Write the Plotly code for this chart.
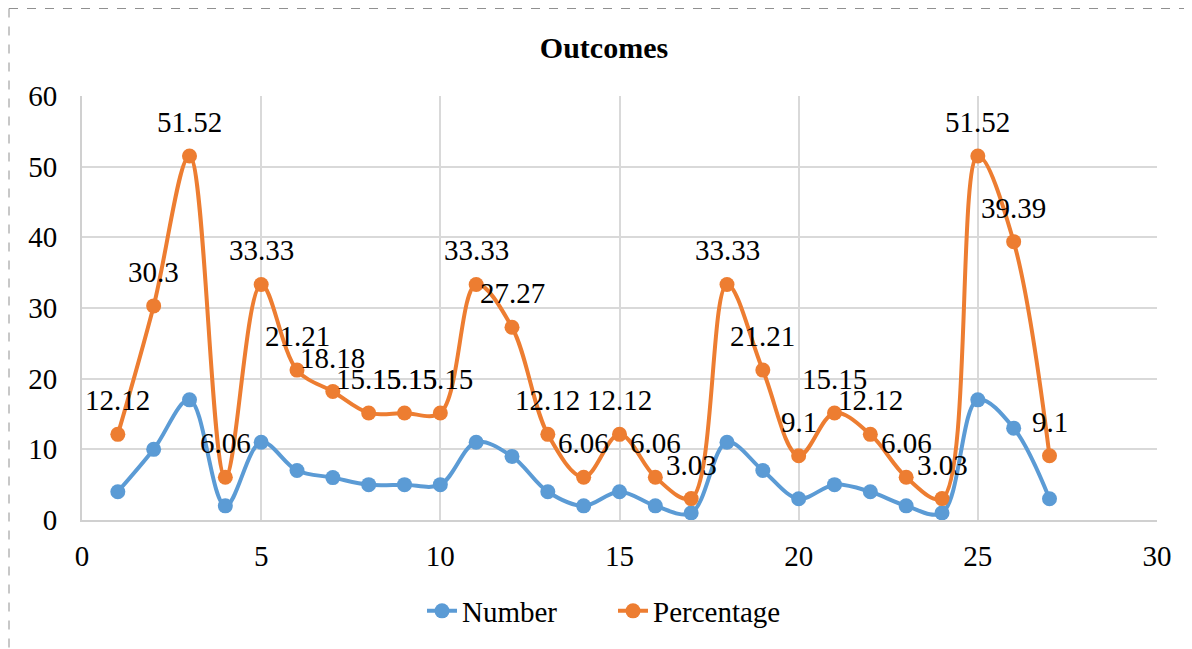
import plotly.graph_objects as go

x_vals = list(range(1, 28))
number = [4, 10, 17, 2, 11, 7, 6, 5, 5, 5, 11, 9, 4, 2, 4, 2, 1, 11, 7, 3, 5, 4, 2, 1, 17, 13, 3]
percentage = [12.12, 30.3, 51.52, 6.06, 33.33, 21.21, 18.18, 15.15, 15.15, 15.15,
              33.33, 27.27, 12.12, 6.06, 12.12, 6.06, 3.03, 33.33, 21.21, 9.1,
              15.15, 12.12, 6.06, 3.03, 51.52, 39.39, 9.1]
x_ticks = [0, 5, 10, 15, 20, 25, 30]
y_ticks = [0, 10, 20, 30, 40, 50, 60]

BLUE = "#5B9BD5"
ORANGE = "#ED7D31"
FONT = "Liberation Serif"
FS = 29

# the page places the figure 8px from the top-left corner
OFF = 8
W, H = 1192 - OFF, 649 - OFF
PL, PR, PT, PB = 82, 1157, 96, 520  # plot area in page pixels

fig = go.Figure()
fig.add_trace(go.Scatter(
    x=x_vals, y=number, name="Number", mode="lines+markers",
    line=dict(color=BLUE, width=4, shape="spline", smoothing=1),
    marker=dict(color=BLUE, size=15),
))
fig.add_trace(go.Scatter(
    x=x_vals, y=percentage, name="Percentage", mode="lines+markers",
    line=dict(color=ORANGE, width=4, shape="spline", smoothing=1),
    marker=dict(color=ORANGE, size=15),
))

for xv, pv in zip(x_vals, percentage):
    fig.add_annotation(x=xv, y=pv, text=str(pv), showarrow=False,
                       yshift=34, xanchor="center", yanchor="middle",
                       font=dict(family=FONT, size=FS, color="black"))

pw, ph = PR - PL, PB - PT
bx = (9 - PL) / pw
by = (PB - 8.5) / ph
fig.add_shape(type="line", xref="paper", yref="paper",
              x0=bx, x1=(1200 - PL) / pw, y0=by, y1=by,
              line=dict(color="#909090", width=1, dash="dash"))
fig.add_shape(type="line", xref="paper", yref="paper",
              x0=bx, x1=bx, y0=by, y1=(PB - 660) / ph,
              line=dict(color="#909090", width=1, dash="dash"))

fig.update_layout(
    width=W, height=H,
    margin=dict(l=PL - OFF, r=W - (PR - OFF), t=PT - OFF, b=H - (PB - OFF)),
    paper_bgcolor="white", plot_bgcolor="white",
    font=dict(family=FONT, size=FS, color="black"),
    title=dict(text="<b>Outcomes</b>", x=(604 - OFF) / W, xanchor="center",
               y=1 - (47 - OFF) / H, yanchor="middle", yref="container",
               font=dict(family=FONT, size=30, color="black")),
    showlegend=True,
    legend=dict(orientation="h", x=(422 - PL) / pw, xanchor="left",
                y=(PB - 611) / ph, yanchor="middle",
                font=dict(family=FONT, size=FS, color="black"),
                entrywidth=146, entrywidthmode="pixels",
                tracegroupgap=0),
    xaxis=dict(range=[0, 30], tickvals=x_ticks, showgrid=True, gridcolor="#D9D9D9",
               gridwidth=2, showline=True, linecolor="#D0D0D0", linewidth=2,
               zeroline=False, ticks="", ticklabelstandoff=9,
               tickfont=dict(family=FONT, size=FS)),
    yaxis=dict(range=[0, 60], tickvals=y_ticks, showgrid=True, gridcolor="#D9D9D9",
               gridwidth=2, showline=True, linecolor="#D0D0D0", linewidth=2,
               zeroline=False, ticks="", ticklabelstandoff=17,
               tickfont=dict(family=FONT, size=FS)),
)

fig.write_html("out.html")
